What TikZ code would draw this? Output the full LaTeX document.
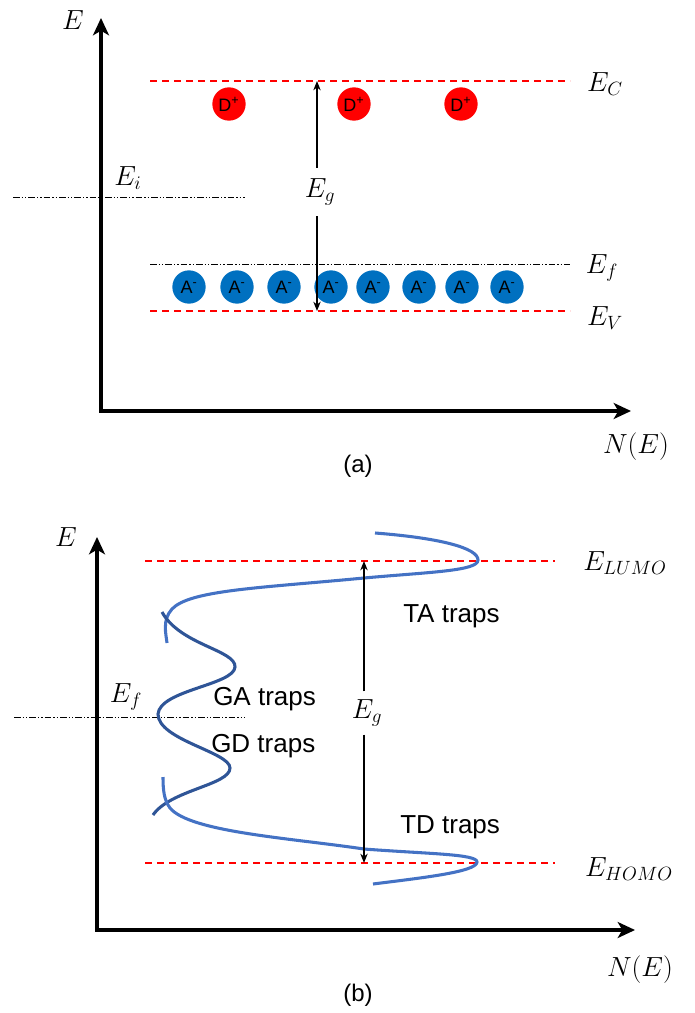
\documentclass[tikz,border=0pt]{standalone}
\usepackage[no-math]{fontspec}
\setmainfont{Liberation Sans}
\usepackage{tikz}
\usetikzlibrary{arrows.meta}

\definecolor{bandred}{HTML}{FF0000}
\definecolor{accblue}{HTML}{0070C0}
\definecolor{tailblue}{HTML}{4472C4}
\definecolor{gausblue}{HTML}{2F5597}

\begin{document}
\begin{tikzpicture}[x=0.75pt, y=-0.75pt,
  axis/.style={line width=2.3pt, -{Stealth[length=13pt,width=12pt,inset=3.5pt]}},
  band/.style={bandred, line width=1.1pt, dash pattern=on 5.5pt off 3.5pt},
  level/.style={black, line width=0.7pt,
                dash pattern=on 5pt off 1.5pt on 1pt off 1.5pt on 1pt off 1.5pt},
  gaparr/.style={line width=1pt, -{Stealth[length=7pt,width=5.5pt]}},
  lab/.style={font=\fontsize{21}{24}\selectfont, inner sep=1pt},
  caption/.style={font=\fontsize{18}{21}\selectfont},
  txt/.style={font=\fontsize{19.5}{22}\selectfont, anchor=base west, inner sep=0pt},
  donor/.style={circle, fill=bandred, minimum size=25pt, inner sep=0pt,
                font=\fontsize{13.5}{13.5}\selectfont},
  acceptor/.style={circle, fill=accblue, minimum size=25pt, inner sep=0pt,
                   font=\fontsize{13.5}{13.5}\selectfont},
  tail/.style={tailblue, line width=2.3pt},
  gaus/.style={gausblue, line width=2.3pt}
]
  \useasboundingbox (0,0) rectangle (694,1013);

  % ---------- (a) ----------
  % Axes
  \coordinate (oa) at (101,411);
  \coordinate (ya) at (101,18);
  \coordinate (xa) at (631,411);
  \draw[axis] (oa) -- (ya);
  \draw[axis] ([xshift=-1.15pt]oa) -- (xa);
  \node[lab] (Ea) at (73,20) {$E$};
  \node[lab] (NEa) at (636,447) {$N(E)$};
  \node[caption] (capa) at (358,466) {(a)};

  % Levels
  \coordinate (ecl) at (150,81);   \coordinate (ecr) at (570,81);
  \coordinate (evl) at (150,311);  \coordinate (evr) at (570,311);
  \coordinate (efl) at (150,264);  \coordinate (efr) at (570,264);
  \coordinate (eil) at (13,197);   \coordinate (eir) at (245,197);
  \draw[band] (ecl) -- (ecr);
  \draw[band] (evl) -- (evr);
  \draw[level] (efl) -- (efr);
  \draw[level] (eil) -- (eir);
  \node[lab] (EC) at (605,84) {$E_C$};
  \node[lab] (Efa) at (602,268) {$E_f$};
  \node[lab] (EV) at (605,318) {$E_V$};
  \node[lab] (Ei) at (128,178) {$E_i$};

  % Donors and acceptors
  \node[donor] (d1) at (229,104) {D\textsuperscript{+}};
  \node[donor] (d2) at (354,104) {D\textsuperscript{+}};
  \node[donor] (d3) at (461,104) {D\textsuperscript{+}};
  \node[acceptor] (a1) at (189,287) {A\textsuperscript{-}};
  \node[acceptor] (a2) at (237,287) {A\textsuperscript{-}};
  \node[acceptor] (a3) at (284,287) {A\textsuperscript{-}};
  \node[acceptor] (a4) at (331,287) {A\textsuperscript{-}};
  \node[acceptor] (a5) at (373,287) {A\textsuperscript{-}};
  \node[acceptor] (a6) at (419,287) {A\textsuperscript{-}};
  \node[acceptor] (a7) at (462,287) {A\textsuperscript{-}};
  \node[acceptor] (a8) at (507,287) {A\textsuperscript{-}};

  % Gap
  \coordinate (gta) at (317,81);
  \coordinate (gba) at (317,311);
  \node[lab, inner xsep=2pt, inner ysep=8pt] (Ega) at (320,192) {$E_g$};
  \draw[gaparr] (Ega.north -| gta) -- (gta);
  \draw[gaparr] (Ega.south -| gba) -- (gba);

  % ---------- (b) ----------
  % Axes
  \coordinate (ob) at (97,930);
  \coordinate (yb) at (97,537);
  \coordinate (xb) at (635,930);
  \draw[axis] (ob) -- (yb);
  \draw[axis] ([xshift=-1.15pt]ob) -- (xb);
  \node[lab] (Eb) at (66,537) {$E$};
  \node[lab] (NEb) at (640,970) {$N(E)$};
  \node[caption] (capb) at (358,995) {(b)};

  % Levels
  \coordinate (lul) at (145,561);  \coordinate (lur) at (555,561);
  \coordinate (hol) at (145,863);  \coordinate (hor) at (555,863);
  \coordinate (efbl) at (14,717);  \coordinate (efbr) at (245,717);
  \draw[band] (lul) -- (lur);
  \draw[band] (hol) -- (hor);
  \draw[level] (efbl) -- (efbr);
  \node[lab] (ELUMO) at (625,563) {$E_{LUMO}$};
  \node[lab] (EHOMO) at (629,869) {$E_{HOMO}$};
  \node[lab] (Efb) at (126,697) {$E_f$};

  % Trap distributions
  \draw[tail] (375,533) .. controls (440,538) and (478,548) .. (478,560)
              .. controls (478,571) and (430,572) .. (364,578)
              .. controls (260,588) and (190,590) .. (172,609)
              .. controls (162,620) and (166,634) .. (167,643);
  \draw[gaus] (162,612) .. controls (180,645) and (236,650) .. (235,667)
              .. controls (234,685) and (160,690) .. (158,714)
              .. controls (158,740) and (230,752) .. (230,768)
              .. controls (230,785) and (170,790) .. (153,815);
  \draw[tail] (163,777) .. controls (163,790) and (164,800) .. (170,808)
              .. controls (190,832) and (290,838) .. (364,849)
              .. controls (430,854) and (477,854) .. (477,862)
              .. controls (477,872) and (420,878) .. (373,884);

  % Labels
  \node[txt] (TA) at (403,622) {TA traps};
  \node[txt] (GA) at (213,705) {GA traps};
  \node[txt] (GD) at (211,752) {GD traps};
  \node[txt] (TD) at (400,833) {TD traps};

  % Gap
  \coordinate (gtb) at (364,561);
  \coordinate (gbb) at (364,863);
  \node[lab, inner xsep=2pt, inner ysep=6pt] (Egb) at (367,713) {$E_g$};
  \draw[gaparr] (Egb.north -| gtb) -- (gtb);
  \draw[gaparr] (Egb.south -| gbb) -- (gbb);
\end{tikzpicture}
\end{document}
